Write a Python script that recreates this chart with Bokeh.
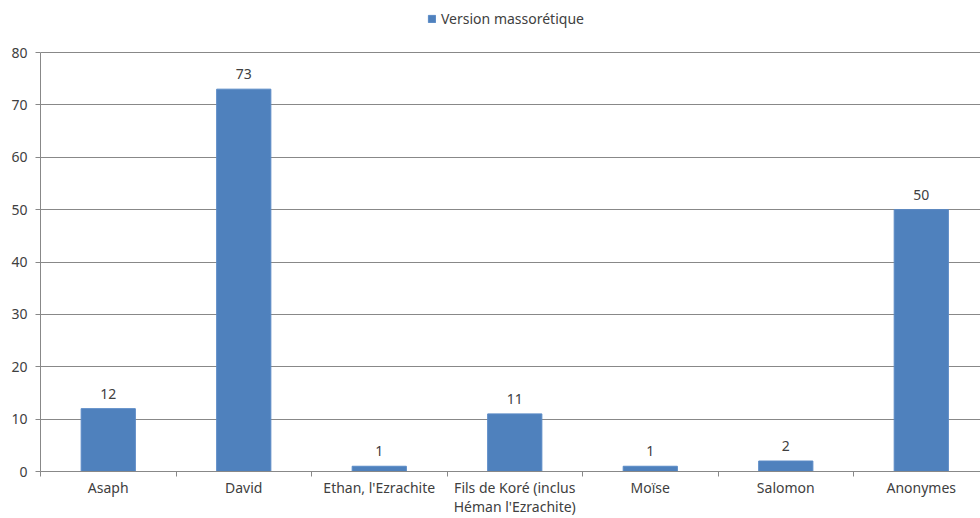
from bokeh.plotting import figure
from bokeh.models import (ColumnDataSource, FixedTicker, LabelSet, Legend,
                          LegendItem, Range1d)
from bokeh.core.properties import value
from bokeh.embed import file_html
from bokeh.resources import INLINE

# Psalm authorship counts (Masoretic text)
authors = ["Asaph", "David", "Ethan, l'Ezrachite",
           "Fils de Koré (inclus\nHéman l'Ezrachite)", "Moïse", "Salomon",
           "Anonymes"]
counts = [12, 73, 1, 11, 1, 2, 50]
series_name = "Version massorétique"
y_ticks = [0, 10, 20, 30, 40, 50, 60, 70, 80]

FONT = "Noto Sans"
TEXT = "#404040"
GRID = "#888888"
BAR = "#4F81BD"

centers = [i + 0.5 for i in range(len(authors))]
bounds = [float(i) for i in range(len(authors) + 1)]

src = ColumnDataSource(dict(x=centers, y=counts, lab=[str(c) for c in counts]))

# frame reaches the top edge so the legend can live above the 80 gridline
Y_MAX = 80
y_top = Y_MAX * 471 / 419

p = figure(width=980, height=518, output_backend="svg",
           toolbar_location=None,
           x_range=Range1d(0, 6.937), y_range=Range1d(0, y_top),
           min_border_left=40, min_border_right=0, min_border_bottom=47,
           min_border_top=0, outline_line_color=None,
           background_fill_color="white", border_fill_color="white")

bars = p.vbar(x="x", top="y", width=0.4, source=src, fill_color=BAR,
              line_color="#5A8AC6", line_width=1)

p.add_layout(LabelSet(x="x", y="y", text="lab", source=src,
                      text_align="center", text_baseline="bottom", y_offset=10,
                      text_font=value(FONT), text_font_size="14px",
                      text_color=TEXT))

# x axis: labels at category centers, short tick marks on the boundaries
xa = p.xaxis[0]
xa.ticker = FixedTicker(ticks=centers, minor_ticks=bounds)
xa.major_label_overrides = {c: a for c, a in zip(centers, authors)}
xa.major_tick_line_color = None
xa.minor_tick_in = 0
xa.minor_tick_out = 5
xa.minor_tick_line_color = GRID
xa.axis_line_color = GRID
xa.major_label_text_font = FONT
xa.major_label_text_font_size = "14px"
xa.major_label_text_color = TEXT
xa.major_label_text_line_height = 1.0
xa.major_label_standoff = 0

ya = p.yaxis[0]
ya.ticker = FixedTicker(ticks=y_ticks)
ya.bounds = (0, Y_MAX)
ya.major_tick_in = 0
ya.major_tick_out = 5
ya.minor_tick_line_color = None
ya.major_tick_line_color = GRID
ya.axis_line_color = GRID
ya.major_label_text_font = FONT
ya.major_label_text_font_size = "14px"
ya.major_label_text_color = TEXT
ya.major_label_standoff = 8

p.xgrid.grid_line_color = None
p.ygrid.grid_line_color = GRID
p.ygrid.ticker = FixedTicker(ticks=y_ticks)

legend = Legend(items=[LegendItem(label=series_name, renderers=[bars])],
                orientation="horizontal", location=(387, 443),
                label_text_font=FONT, label_text_font_size="14px",
                label_text_color=TEXT, glyph_width=9, glyph_height=9,
                label_standoff=5, border_line_color=None,
                background_fill_alpha=0, margin=0, padding=4,
                label_height=14)
p.add_layout(legend)

open("out.html", "w").write(file_html(p, INLINE))
